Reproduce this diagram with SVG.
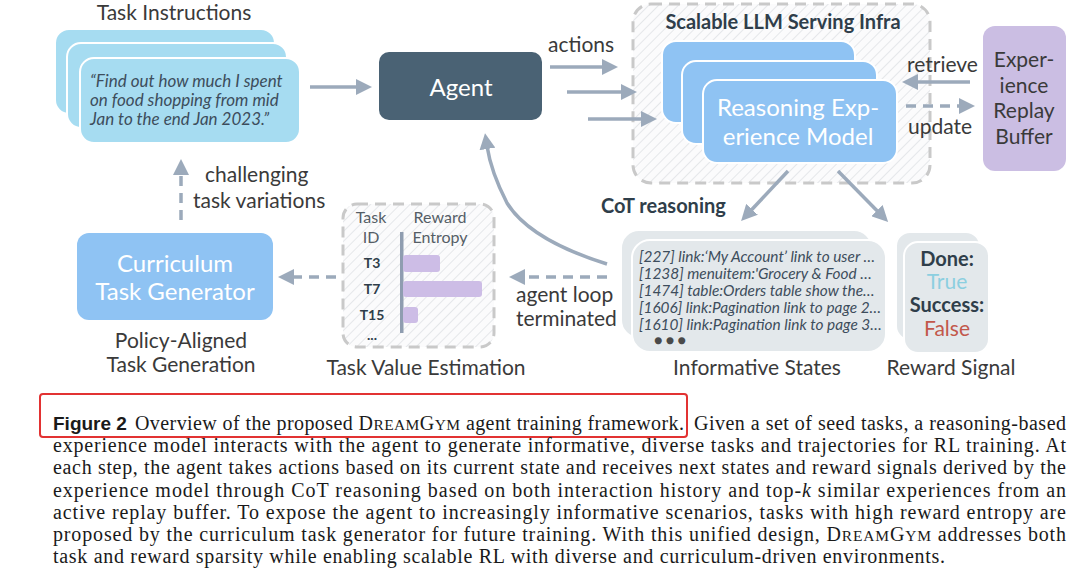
<svg xmlns="http://www.w3.org/2000/svg" width="1080" height="575" viewBox="0 0 1080 575">
<defs>
<pattern id="hatch" width="7" height="7" patternUnits="userSpaceOnUse" patternTransform="rotate(45)">
<rect width="7" height="7" fill="#fbfbfc"/>
<line x1="0" y1="0" x2="0" y2="7" stroke="#e0e2e6" stroke-width="1.6"/>
</pattern>
<marker id="ah" viewBox="0 0 16 16" markerWidth="16" markerHeight="16" markerUnits="userSpaceOnUse" refX="3" refY="8" orient="auto">
<path d="M0,0 L16,8 L0,16 z" fill="#9caabb"/>
</marker>
<style>
.lbl{font-family:Lato,"Noto Sans",sans-serif;fill:#3a3a3a;font-size:21px}
.hd{font-family:Lato,"Noto Sans",sans-serif;fill:#2f3e4a;font-size:20px;font-weight:700}
.wt{font-family:Lato,"Noto Sans",sans-serif;fill:#ffffff;font-size:24px}
.it{font-family:Lato,"Noto Sans",sans-serif;font-style:italic;fill:#3d4d5c}
.sm{font-family:Lato,"Noto Sans",sans-serif;fill:#555e66;font-size:16px}
.tid{font-family:Lato,"Noto Sans",sans-serif;fill:#2f3e4a;font-size:14px;font-weight:700}
.conn{fill:none;stroke:#9caabb;stroke-width:3.5;marker-end:url(#ah)}
.dash{stroke-dasharray:10 7}
.dbox{fill:url(#hatch);stroke:#c9c9c9;stroke-width:3;stroke-dasharray:11 7}
.cap{font-family:"Liberation Serif",serif;font-size:20px;fill:#1a1a1a}
.blue{fill:#8fc3f3;stroke:#ffffff;stroke-width:2}
.cyan{fill:#a6dcf1;stroke:#ffffff;stroke-width:2}
.grey{fill:#e3e8eb;stroke:#ffffff;stroke-width:2}
</style>
</defs>
<rect width="1080" height="575" fill="#ffffff"/>

<g id="task-instructions">
<text class="lbl" x="174" y="20" text-anchor="middle" font-size="22">Task Instructions</text>
<rect class="cyan" x="55" y="29" width="220" height="85" rx="14"/>
<rect class="cyan" x="67" y="43" width="220" height="85" rx="14"/>
<rect class="cyan" x="80" y="58" width="220" height="85" rx="14"/>
<text class="it" font-size="17" x="90" y="87">“Find out how much I spent</text>
<text class="it" font-size="17" x="90" y="106">on food shopping from mid</text>
<text class="it" font-size="17" x="90" y="125">Jan to the end Jan 2023.”</text>
</g>

<g id="agent">
<rect x="379" y="52" width="163" height="68" rx="10" fill="#4a6274"/>
<text class="wt" x="461" y="96" text-anchor="middle" font-size="28">Agent</text>
</g>

<g id="llm-infra">
<rect class="dbox" x="633" y="4" width="297" height="179" rx="18"/>
<text class="hd" x="783" y="29" text-anchor="middle">Scalable LLM Serving Infra</text>
</g>

<g id="experience-model">
<rect class="blue" x="662" y="41" width="193" height="82" rx="14"/>
<rect class="blue" x="682" y="61" width="195" height="83" rx="14"/>
<rect class="blue" x="703" y="80" width="194" height="83" rx="14"/>
<text class="wt" x="798" y="116" text-anchor="middle">Reasoning Exp-</text>
<text class="wt" x="798" y="145" text-anchor="middle">erience Model</text>
</g>

<g id="replay-buffer">
<rect x="983" y="26" width="83" height="145" rx="12" fill="#cbbee3"/>
<text class="lbl" x="1024" y="67" text-anchor="middle" font-size="23">Exper-</text>
<text class="lbl" x="1024" y="93" text-anchor="middle" font-size="23">ience</text>
<text class="lbl" x="1024" y="118" text-anchor="middle" font-size="23">Replay</text>
<text class="lbl" x="1024" y="144" text-anchor="middle" font-size="23">Buffer</text>
</g>

<g id="informative-states">
<rect class="grey" x="621" y="230" width="251" height="108" rx="18"/>
<rect class="grey" x="632" y="240" width="254" height="112" rx="18"/>
<g class="it" font-size="15.4" fill="#4a4a4a">
<text x="639" y="262">[227] link:‘My Account’ link to user …</text>
<text x="639" y="279">[1238] menuitem:'Grocery &amp; Food …</text>
<text x="639" y="296">[1474] table:Orders table show the…</text>
<text x="639" y="313">[1606] link:Pagination link to page 2…</text>
<text x="639" y="330">[1610] link:Pagination link to page 3…</text>
</g>
<text class="tid" x="654" y="345" font-size="9" style="fill:#4a4a4a">● ● ●</text>
<text class="lbl" x="757" y="375" text-anchor="middle">Informative States</text>
</g>

<g id="reward-signal">
<rect class="grey" x="896" y="232" width="84" height="108" rx="14"/>
<rect class="grey" x="904" y="242" width="85" height="111" rx="14"/>
<text class="hd" x="947" y="266" text-anchor="middle" font-size="17">Done:</text>
<text class="lbl" x="947" y="289" text-anchor="middle" font-size="17" style="fill:#8ccfe0">True</text>
<text class="hd" x="947" y="312" text-anchor="middle" font-size="17">Success:</text>
<text class="lbl" x="947" y="336" text-anchor="middle" font-size="17" style="fill:#c2574a">False</text>
<text class="lbl" x="951" y="375" text-anchor="middle">Reward Signal</text>
</g>

<g id="task-value">
<rect class="dbox" x="343" y="204" width="151" height="143" rx="14"/>
<text class="sm" x="371" y="223" text-anchor="middle">Task</text>
<text class="sm" x="371" y="243" text-anchor="middle">ID</text>
<text class="sm" x="440" y="223" text-anchor="middle">Reward</text>
<text class="sm" x="440" y="243" text-anchor="middle">Entropy</text>
<rect x="400" y="232" width="3.5" height="101" fill="#8f9db0"/>
<rect x="403" y="255" width="37" height="17" rx="3" fill="#cdbde6"/>
<rect x="403" y="281" width="79" height="16" rx="3" fill="#cdbde6"/>
<rect x="403" y="307" width="15" height="16" rx="3" fill="#cdbde6"/>
<text class="tid" x="372" y="268" text-anchor="middle">T3</text>
<text class="tid" x="372" y="294" text-anchor="middle">T7</text>
<text class="tid" x="372" y="320" text-anchor="middle">T15</text>
<text class="tid" x="372" y="340" text-anchor="middle">...</text>
<text class="lbl" x="426" y="375" text-anchor="middle">Task Value Estimation</text>
</g>

<g id="curriculum">
<rect x="77" y="233" width="196" height="87" rx="12" fill="#8fc3f3"/>
<text class="wt" x="175" y="272" text-anchor="middle" font-size="23.5">Curriculum</text>
<text class="wt" x="175" y="300" text-anchor="middle" font-size="23.5">Task Generator</text>
<text class="lbl" x="181" y="348" text-anchor="middle">Policy-Aligned</text>
<text class="lbl" x="181" y="372" text-anchor="middle">Task Generation</text>
</g>

<g id="connectors">
<line class="conn" x1="310" y1="87" x2="359" y2="87"/>
<line class="conn" x1="550" y1="67" x2="605" y2="67"/>
<line class="conn" x1="567" y1="92" x2="624" y2="92"/>
<line class="conn" x1="588" y1="119" x2="644" y2="119"/>
<line class="conn" x1="970" y1="82" x2="915" y2="82"/>
<line class="conn dash" x1="906" y1="106" x2="962" y2="106"/>
<line class="conn" x1="788" y1="171" x2="750" y2="211.5"/>
<line class="conn" x1="838" y1="171" x2="879" y2="212.7"/>
<path class="conn" d="M607,264 Q530,240 507,203 Q491,172 487,146"/>
<line class="conn dash" x1="607" y1="277" x2="522" y2="277"/>
<line class="conn dash" x1="336" y1="277" x2="291" y2="277"/>
<line class="conn dash" x1="181" y1="220" x2="181" y2="172"/>
<text class="lbl" x="548" y="52" font-size="20">actions</text>
<text class="lbl" x="907" y="72" font-size="20">retrieve</text>
<text class="lbl" x="908" y="134" font-size="20">update</text>
<text class="hd" x="601" y="213" font-size="21">CoT reasoning</text>
<text class="lbl" x="516" y="302" font-size="17.5">agent loop</text>
<text class="lbl" x="516" y="326" font-size="17.5">terminated</text>
<text class="lbl" x="205" y="182" font-size="21.5">challenging</text>
<text class="lbl" x="193" y="208" font-size="21.5">task variations</text>
</g>

<g id="caption">
<rect x="40" y="394" width="647" height="43" rx="3" fill="none" stroke="#e23232" stroke-width="2"/>
<text x="53" y="430" font-family="'Liberation Sans',Arial,sans-serif" font-weight="700" font-size="19" fill="#1a1a1a">Figure 2</text>
<text class="cap" x="135" y="430" textLength="549" lengthAdjust="spacing">Overview of the proposed <tspan>D</tspan><tspan font-size="15.5">REAM</tspan><tspan>G</tspan><tspan font-size="15.5">YM</tspan> agent training framework.</text>
<text class="cap" x="694" y="430" textLength="372" lengthAdjust="spacing">Given a set of seed tasks, a reasoning-based</text>
<text class="cap" x="53" y="452" textLength="1013" lengthAdjust="spacing">experience model interacts with the agent to generate informative, diverse tasks and trajectories for RL training. At</text>
<text class="cap" x="53" y="474" textLength="1013" lengthAdjust="spacing">each step, the agent takes actions based on its current state and receives next states and reward signals derived by the</text>
<text class="cap" x="53" y="497" textLength="1013" lengthAdjust="spacing">experience model through CoT reasoning based on both interaction history and top-<tspan font-style="italic">k</tspan> similar experiences from an</text>
<text class="cap" x="53" y="519" textLength="1013" lengthAdjust="spacing">active replay buffer. To expose the agent to increasingly informative scenarios, tasks with high reward entropy are</text>
<text class="cap" x="53" y="541" textLength="1013" lengthAdjust="spacing">proposed by the curriculum task generator for future training. With this unified design, <tspan>D</tspan><tspan font-size="15.5">REAM</tspan><tspan>G</tspan><tspan font-size="15.5">YM</tspan> addresses both</text>
<text class="cap" x="53" y="563" textLength="892" lengthAdjust="spacing">task and reward sparsity while enabling scalable RL with diverse and curriculum-driven environments.</text>
</g>
</svg>
